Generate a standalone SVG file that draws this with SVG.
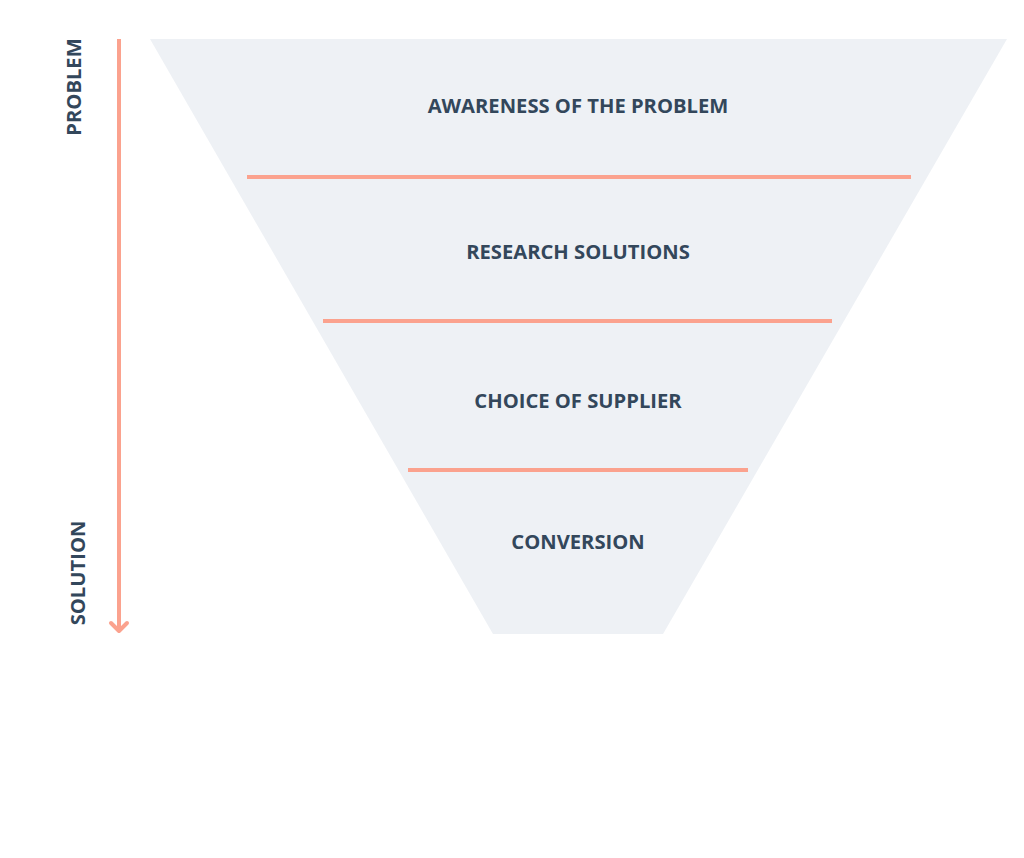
<svg xmlns="http://www.w3.org/2000/svg" width="1024" height="858" viewBox="0 0 1024 858">
<style>
.lbl{font-family:"Open Sans","Liberation Sans",sans-serif;font-weight:700;font-size:20.2px;fill:#33475B;text-anchor:middle;dominant-baseline:central}
.sep{stroke:#FBA28E;stroke-width:4;fill:none}
</style>
<rect width="1024" height="858" fill="#FFFFFF"/>
<g id="funnel">
<polygon points="150,39 1007,39 663,634 493,634" fill="#EEF1F5"/>
</g>
<g id="connectors">
<line class="sep" x1="247" y1="177" x2="911" y2="177"/>
<line class="sep" x1="323" y1="321" x2="832" y2="321"/>
<line class="sep" x1="408" y1="470" x2="748" y2="470"/>
<line class="sep" x1="119" y1="39" x2="119" y2="630"/>
<polyline class="sep" points="111,623 119,631 127,623" stroke-linecap="round" stroke-linejoin="round"/>
</g>
<g id="stage1"><text class="lbl" x="578" y="105">AWARENESS OF THE PROBLEM</text></g>
<g id="stage2"><text class="lbl" x="578" y="251">RESEARCH SOLUTIONS</text></g>
<g id="stage3"><text class="lbl" x="578" y="400">CHOICE OF SUPPLIER</text></g>
<g id="stage4"><text class="lbl" x="578" y="541">CONVERSION</text></g>
<g id="axis-problem"><text class="lbl" transform="translate(73,87) rotate(-90)">PROBLEM</text></g>
<g id="axis-solution"><text class="lbl" transform="translate(77,573) rotate(-90)">SOLUTION</text></g>
</svg>
